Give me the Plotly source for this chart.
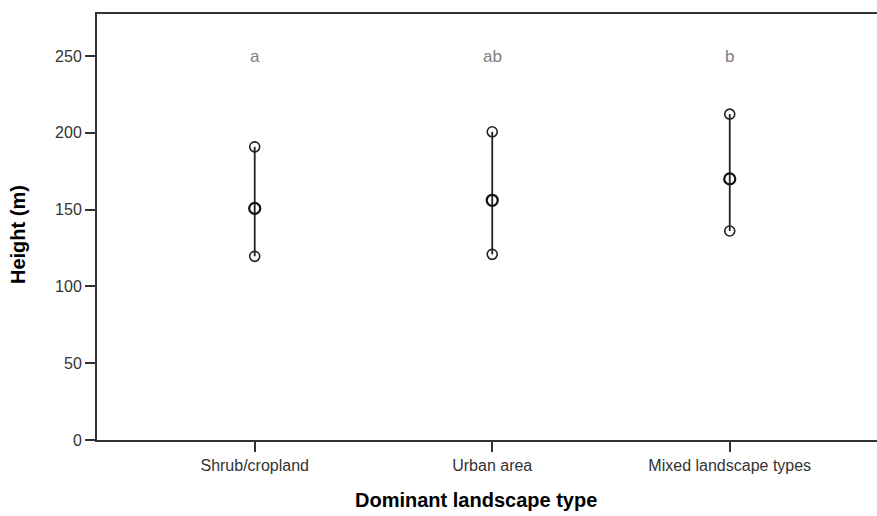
import plotly.graph_objects as go

# Dominant landscape type groups and height summaries (m)
categories = ["Shrub/cropland", "Urban area", "Mixed landscape types"]
means = [150.8, 156.1, 170.0]
upper = [190.9, 200.7, 212.2]
lower = [119.6, 120.9, 136.1]
group_letters = ["a", "ab", "b"]
y_ticks = [0, 50, 100, 150, 200, 250]

line_col = "#222222"
font_family = "Liberation Sans, Arial"
fig = go.Figure()

for i, cat in enumerate(categories):
    # vertical interval line with open circles at both ends
    fig.add_trace(go.Scatter(
        x=[i, i], y=[lower[i], upper[i]], mode="lines+markers",
        line=dict(color=line_col, width=1.8),
        marker=dict(symbol="circle-open", size=10, color=line_col, line=dict(width=1.6)),
        showlegend=False, hoverinfo="skip"))
    # mean marker
    fig.add_trace(go.Scatter(
        x=[i], y=[means[i]], mode="markers",
        marker=dict(symbol="circle-open", size=11, color="#111111", line=dict(width=2.2)),
        showlegend=False, hoverinfo="skip"))
    # significance group letter
    fig.add_annotation(x=i, y=250, text=group_letters[i], showarrow=False,
                       font=dict(family=font_family, size=17, color="#808080"),
                       xref="x", yref="y")

fig.update_layout(
    width=877, height=516,
    margin=dict(l=97, r=0, t=14, b=76),
    plot_bgcolor="white", paper_bgcolor="white",
    font=dict(family=font_family, size=16, color="#333333"),
    xaxis=dict(
        range=[-0.664, 2.62], tickmode="array", tickvals=list(range(len(categories))),
        ticktext=categories, showgrid=False, zeroline=False,
        showline=True, linecolor="#333333", linewidth=2, mirror=True,
        ticks="outside", ticklen=10, tickwidth=1.6, tickcolor="#333333",
        tickfont=dict(size=16, color="#333333")),
    yaxis=dict(
        range=[0, 277.4], tickmode="array", tickvals=y_ticks,
        showgrid=False, zeroline=False,
        showline=True, linecolor="#333333", linewidth=2,
        ticks="outside", ticklen=10, tickwidth=1.6, tickcolor="#333333",
        tickfont=dict(size=16, color="#333333")),
)

# axis titles
fig.add_annotation(text="<b>Height (m)</b>", xref="paper", yref="paper", x=0, y=0.5,
                   xanchor="center", yanchor="middle", xshift=-79, yshift=-8,
                   textangle=-90, showarrow=False,
                   font=dict(family=font_family, size=20, color="#000000"))
fig.add_annotation(text="<b>Dominant landscape type</b>", xref="paper", yref="paper",
                   x=0.5, y=0, xanchor="center", yanchor="middle",
                   yshift=-60, xshift=-11, showarrow=False,
                   font=dict(family=font_family, size=20, color="#000000"))

fig.write_html("out.html")
